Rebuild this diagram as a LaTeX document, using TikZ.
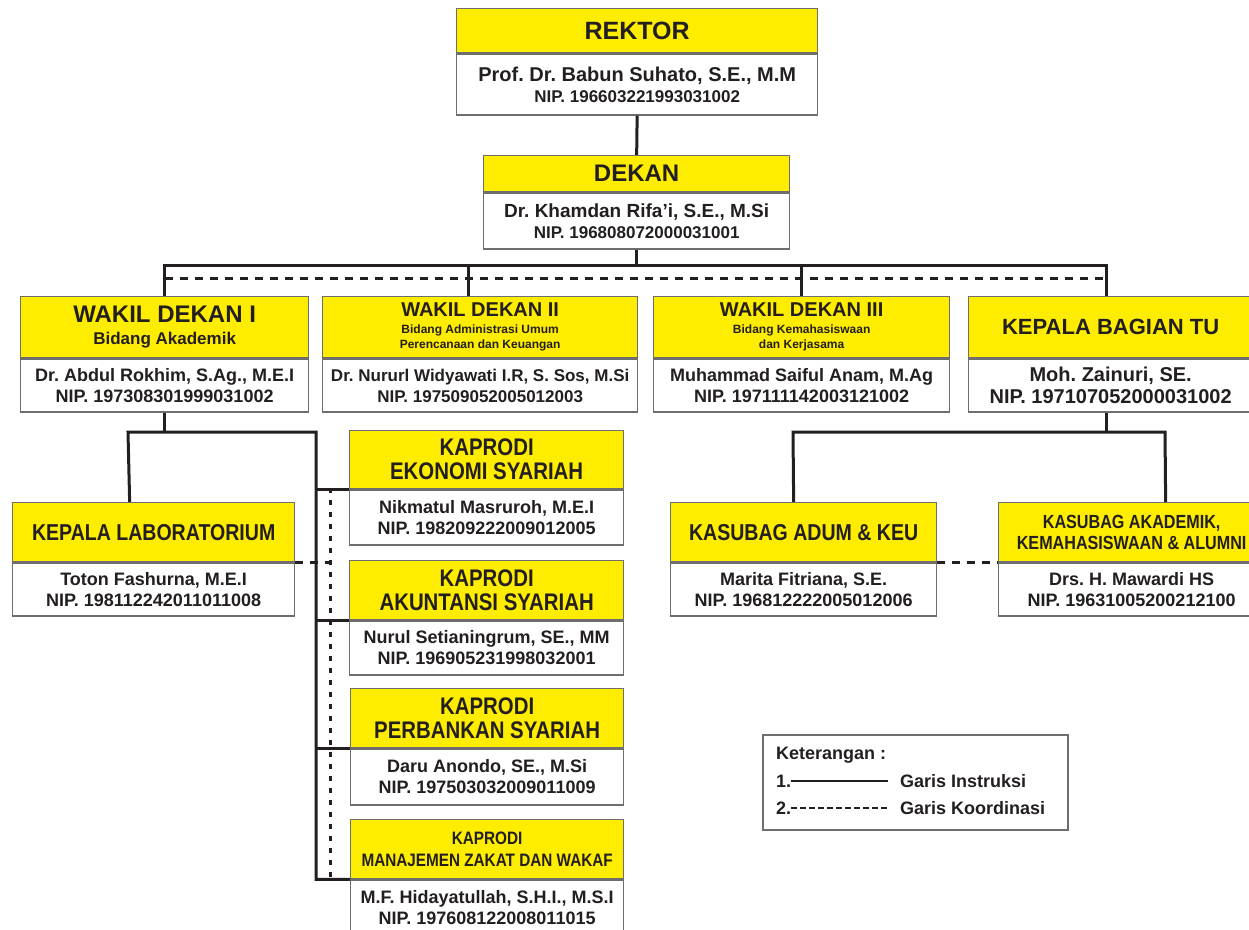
\documentclass[tikz,border=0pt]{standalone}
\usepackage{fontspec}
\setmainfont{Liberation Sans}
\newfontfamily\sempit{Liberation Sans}[FakeStretch=0.85]
\usetikzlibrary{positioning}
\frenchspacing

\definecolor{kuning}{RGB}{255,237,0}
\definecolor{teks}{RGB}{35,31,32}
\definecolor{garisbox}{RGB}{110,110,110}
\newcommand{\kecil}{\fontsize{12}{14}\selectfont}

\tikzset{
  head/.style={draw=garisbox, line width=1.3pt, fill=kuning, text=teks, inner sep=0pt,
               align=center, anchor=north west},
  isi/.style={draw=garisbox, line width=1.3pt, fill=white, text=teks, inner sep=0pt,
              align=center, font=\bfseries\fontsize{18}{21}\selectfont},
  instr/.style={draw=teks, line width=3pt},
  koord/.style={draw=teks, line width=3pt, dash pattern=on 8pt off 7pt},
  titik/.style={draw=teks, line width=3pt, dash pattern=on 5pt off 7pt}
}

\begin{document}
\begin{tikzpicture}[x=1pt,y=-1pt]
  \useasboundingbox (0,0) rectangle (1249,929);

  % pimpinan
  \node[head, minimum width=361pt, minimum height=44pt, font=\bfseries\fontsize{25}{27}\selectfont]
        (rektor) at (456,8) {REKTOR};
  \node[isi, minimum width=361pt, minimum height=61pt] (rektorB) [below=0pt of rektor]
        {{\fontsize{20}{22}\selectfont Prof. Dr. Babun Suhato, S.E., M.M}\\
         {\fontsize{17}{20}\selectfont NIP. 196603221993031002}};
  \node[head, minimum width=306pt, minimum height=36pt, font=\bfseries\fontsize{24}{26}\selectfont]
        (dekan) at (483,155) {DEKAN};
  \node[isi, minimum width=306pt, minimum height=56pt] (dekanB) [below=0pt of dekan]
        {{\fontsize{19}{21}\selectfont Dr. Khamdan Rifa'i, S.E., M.Si}\\
         {\fontsize{17}{20}\selectfont NIP. 196808072000031001}};

  % wakil dekan
  \node[head, minimum width=288pt, minimum height=61pt, font=\bfseries\fontsize{24}{24}\selectfont]
        (wd1) at (20,296) {WAKIL DEKAN I\\[-2pt]{\fontsize{17}{19}\selectfont Bidang Akademik}};
  \node[isi, minimum width=288pt, minimum height=53pt] (wd1B) [below=0pt of wd1]
        {Dr. Abdul Rokhim, S.Ag., M.E.I\\NIP. 197308301999031002};
  \node[head, minimum width=315pt, minimum height=61pt, font=\bfseries\fontsize{20}{20}\selectfont]
        (wd2) at (322,296) {WAKIL DEKAN II\\[-3pt]{\kecil Bidang Administrasi Umum}\\[-5pt]
         {\kecil Perencanaan dan Keuangan}};
  \node[isi, minimum width=315pt, minimum height=53pt, font=\bfseries\fontsize{17}{21}\selectfont]
        (wd2B) [below=0pt of wd2]
        {Dr. Nururl Widyawati I.R, S. Sos, M.Si\\NIP. 197509052005012003};
  \node[head, minimum width=296pt, minimum height=61pt, font=\bfseries\fontsize{20}{20}\selectfont]
        (wd3) at (653,296) {WAKIL DEKAN III\\[-3pt]{\kecil Bidang Kemahasiswaan}\\[-5pt]
         {\kecil dan Kerjasama}};
  \node[isi, minimum width=296pt, minimum height=53pt] (wd3B) [below=0pt of wd3]
        {Muhammad Saiful Anam, M.Ag\\NIP. 197111142003121002};
  \node[head, minimum width=284pt, minimum height=61pt, font=\bfseries\fontsize{22}{24}\selectfont]
        (kbtu) at (968,296) {KEPALA BAGIAN TU};
  \node[isi, minimum width=284pt, minimum height=53pt, font=\bfseries\fontsize{20}{22}\selectfont]
        (kbtuB) [below=0pt of kbtu] {Moh. Zainuri, SE.\\NIP. 197107052000031002};

  % bidang akademik
  \node[head, minimum width=282pt, minimum height=59pt, font=\sempit\bfseries\fontsize{23}{25}\selectfont]
        (kl) at (12,502) {KEPALA LABORATORIUM};
  \node[isi, minimum width=282pt, minimum height=53pt] (klB) [below=0pt of kl]
        {Toton Fashurna, M.E.I\\NIP. 198112242011011008};
  \node[head, minimum width=274pt, minimum height=58pt, font=\sempit\bfseries\fontsize{24}{24}\selectfont]
        (kpES) at (349,430) {KAPRODI\\EKONOMI SYARIAH};
  \node[isi, minimum width=274pt, minimum height=55pt] (kpESB) [below=0pt of kpES]
        {Nikmatul Masruroh, M.E.I\\NIP. 198209222009012005};
  \node[head, minimum width=274pt, minimum height=59pt, font=\sempit\bfseries\fontsize{24}{24}\selectfont]
        (kpAS) at (349,560) {KAPRODI\\AKUNTANSI SYARIAH};
  \node[isi, minimum width=274pt, minimum height=54pt] (kpASB) [below=0pt of kpAS]
        {Nurul Setianingrum, SE., MM\\NIP. 196905231998032001};
  \node[head, minimum width=273pt, minimum height=59pt, font=\sempit\bfseries\fontsize{24}{24}\selectfont]
        (kpPS) at (350,688) {KAPRODI\\PERBANKAN SYARIAH};
  \node[isi, minimum width=273pt, minimum height=56pt] (kpPSB) [below=0pt of kpPS]
        {Daru Anondo, SE., M.Si\\NIP. 197503032009011009};
  \node[head, minimum width=273pt, minimum height=59pt, font=\sempit\bfseries\fontsize{18}{22}\selectfont]
        (kpMZW) at (350,819) {KAPRODI\\MANAJEMEN ZAKAT DAN WAKAF};
  \node[isi, minimum width=273pt, minimum height=56pt] (kpMZWB) [below=0pt of kpMZW]
        {M.F. Hidayatullah, S.H.I., M.S.I\\NIP. 197608122008011015};

  % bagian tata usaha
  \node[head, minimum width=266pt, minimum height=59pt, font=\sempit\bfseries\fontsize{23}{25}\selectfont]
        (kab) at (670,502) {KASUBAG ADUM \& KEU};
  \node[isi, minimum width=266pt, minimum height=53pt] (kabB) [below=0pt of kab]
        {Marita Fitriana, S.E.\\NIP. 196812222005012006};
  \node[head, minimum width=266pt, minimum height=59pt, font=\sempit\bfseries\fontsize{19}{21}\selectfont]
        (kak) at (998,502) {KASUBAG AKADEMIK,\\KEMAHASISWAAN \& ALUMNI};
  \node[isi, minimum width=266pt, minimum height=53pt] (kakB) [below=0pt of kak]
        {Drs. H. Mawardi HS\\NIP. 19631005200212100};

  % garis
  \coordinate (garisI) at (0,265);
  \coordinate (garisK) at (0,278);
  \coordinate (simpulA) at (128,432);
  \coordinate (simpulB) at (316,432);
  \coordinate (simpulC) at (793,432);
  \coordinate (simpulD) at (1165,432);
  \coordinate (titikA) at (330,488);
  \coordinate (titikB) at (330,878);

  \draw[instr] (rektorB.south) -- (dekan.north);
  \draw[instr] (dekanB.south) -- (dekanB.south |- garisI);
  \draw[instr] (wd1.north) -- (wd1.north |- garisI) -- ([xshift=-4pt]kbtu.north |- garisI)
               -- ([xshift=-4pt]kbtu.north);
  \draw[instr] ([xshift=-12pt]wd2.north) -- ([xshift=-12pt]wd2.north |- garisI);
  \draw[instr] (wd3.north) -- (wd3.north |- garisI);
  \draw[koord] (wd1.north |- garisK) -- ([xshift=-4pt]kbtu.north |- garisK);

  \draw[instr] (wd1B.south) -- (wd1B.south |- simpulA);
  \draw[instr] ([xshift=-24pt]kl.north) -- (simpulA) -- (simpulB) |- (kpMZW.south west);
  \draw[instr] (simpulB |- kpES.south west) -- (kpES.south west);
  \draw[instr] (simpulB |- kpAS.south west) -- (kpAS.south west);
  \draw[instr] (simpulB |- kpPS.south west) -- (kpPS.south west);
  \draw[titik] (titikA) -- (titikB);
  \draw[koord] (kl.south east) -- (kl.south east -| titikA);

  \draw[instr] ([xshift=-4pt]kbtuB.south) -- ([xshift=-4pt]kbtuB.south |- simpulC);
  \draw[instr] ([xshift=-10pt]kab.north) -- (simpulC) -- (simpulD) -- ([xshift=34pt]kak.north);
  \draw[koord] (kab.south east) -- (kak.south west);

  % keterangan
  \draw[draw=garisbox, line width=1.3pt] (763,735) rectangle (1068,830);
  \begin{scope}[every node/.style={anchor=west, inner sep=0pt, text=teks,
                font=\bfseries\fontsize{18}{20}\selectfont}]
    \node (ket) at (776,755) {Keterangan :};
    \node (no1) at (776,781) {1.};
    \node (gI)  at (900,781) {Garis Instruksi};
    \node (no2) at (776,808) {2.};
    \node (gK)  at (900,808) {Garis Koordinasi};
  \end{scope}
  \draw[draw=teks, line width=2pt] (no1.east) -- ([xshift=-12pt]gI.west);
  \draw[draw=teks, line width=2pt, dash pattern=on 6pt off 3pt] (no2.east) -- ([xshift=-12pt]gK.west);
\end{tikzpicture}
\end{document}
